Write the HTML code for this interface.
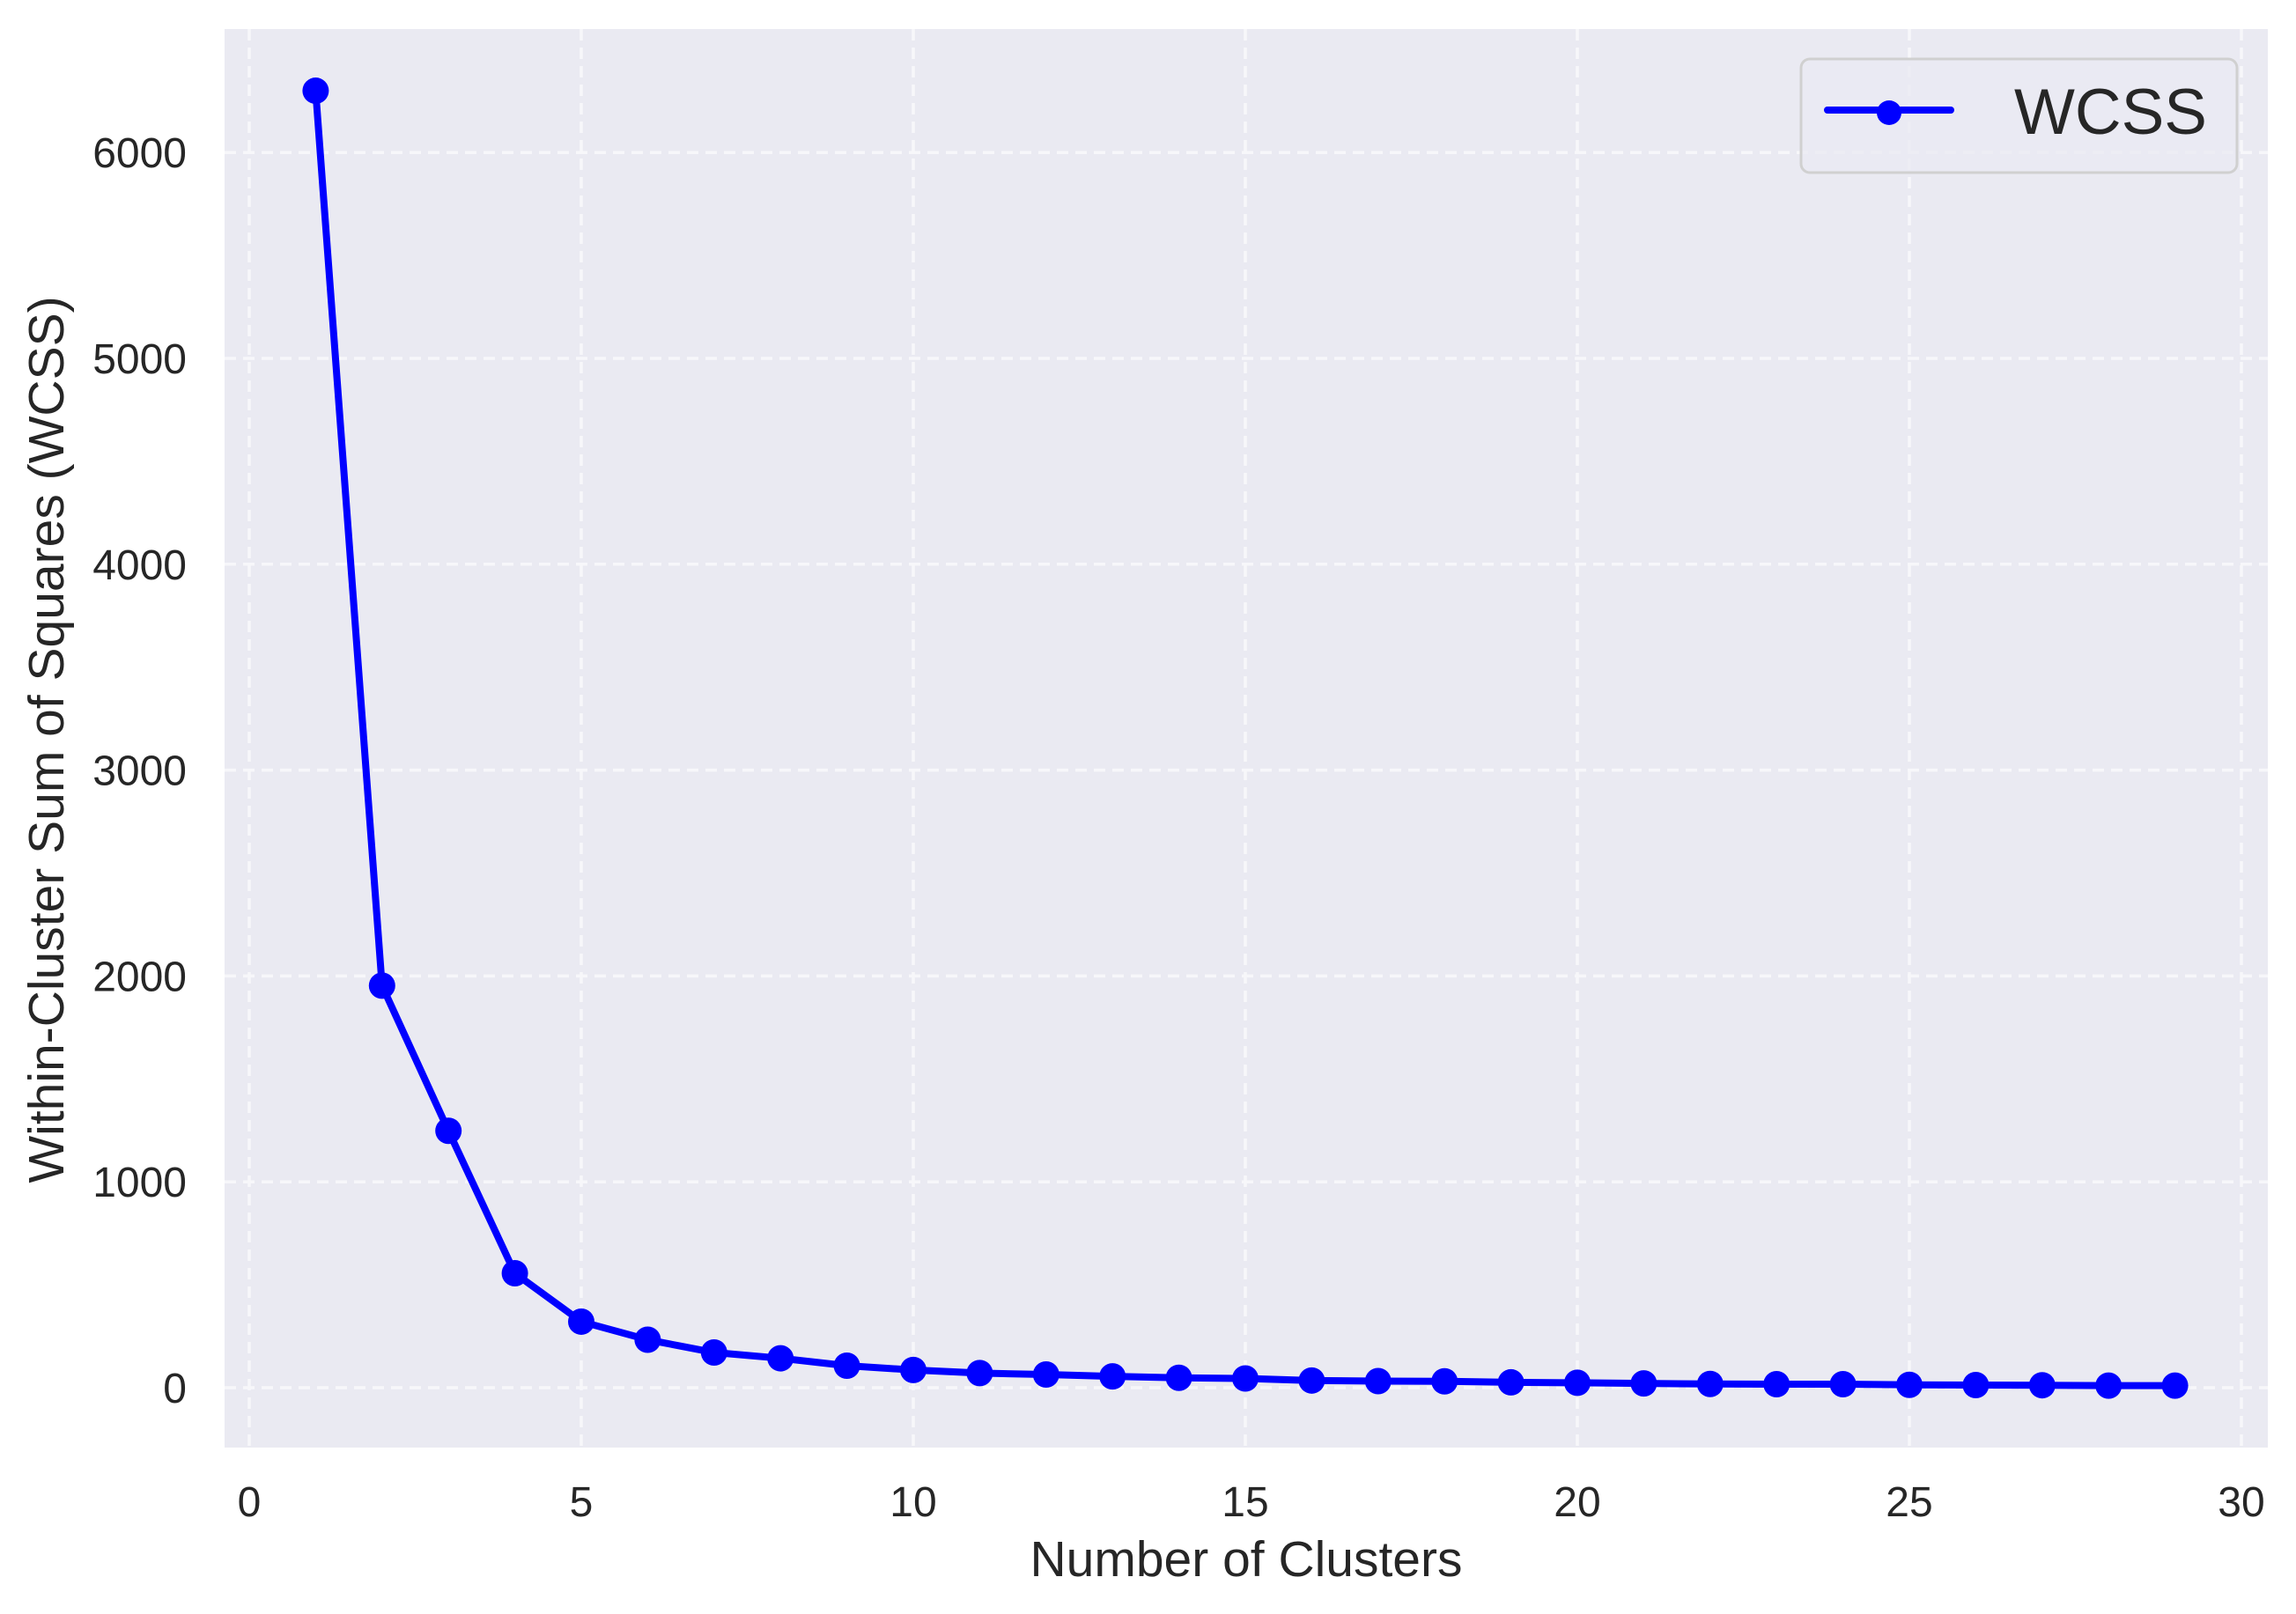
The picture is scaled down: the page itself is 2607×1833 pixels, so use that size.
<!DOCTYPE html>
<html><head><meta charset="utf-8"><style>
html,body{margin:0;padding:0;background:#fff;}
svg{display:block;font-family:"Liberation Sans",sans-serif;}
</style></head><body>
<svg id="chart" width="2607" height="1833" viewBox="0 0 2607 1833">
<rect x="255" y="33" width="2320" height="1611" fill="#eaeaf2"/>
<g id="grid"></g>
<g id="ticks" fill="#262626" font-size="48"></g>
<g id="series"></g>
<text x="1415" y="1790" text-anchor="middle" font-size="57" fill="#262626">Number of Clusters</text>
<text transform="translate(72,840) rotate(-90)" text-anchor="middle" font-size="57" fill="#262626">Within-Cluster Sum of Squares (WCSS)</text>
<g>
<rect x="2045" y="67" width="495" height="129" rx="10" fill="#eaeaf2" fill-opacity="0.8" stroke="#d0d0d0" stroke-width="3"/>
<line x1="2075" y1="125" x2="2215" y2="125" stroke="#0000ff" stroke-width="8" stroke-linecap="round"/>
<circle cx="2145" cy="128" r="14" fill="#0000ff"/>
<text x="2287" y="152" font-size="73" fill="#262626">WCSS</text>
</g>
</svg>
<script>
const clusters = [1,2,3,4,5,6,7,8,9,10,11,12,13,14,15,16,17,18,19,20,21,22,23,24,25,26,27,28,29];
const wcss = [6300,1953,1248,556,321,233,171,143,107,86,71,64,55,48,45,35,32,31,26,24,21,18,17,17,14,13,12,10,10];
const xTicks = [0,5,10,15,20,25,30];
const yTicks = [0,1000,2000,3000,4000,5000,6000];

const NS = "http://www.w3.org/2000/svg";
const xs = v => 283 + v * 75.4;
const ys = v => 1576 - v * 0.2338;
function mk(tag, attrs, parent){const e=document.createElementNS(NS,tag);for(const k in attrs)e.setAttribute(k,attrs[k]);parent.appendChild(e);return e;}
const grid=document.getElementById('grid'), ticks=document.getElementById('ticks'), series=document.getElementById('series');
xTicks.forEach(t=>{
  const l=mk('line',{x1:xs(t),x2:xs(t),y1:33,y2:1644,stroke:'#f7f7fa',"stroke-width":3.5,"stroke-dasharray":"13 8"},grid);
  
  
  const tx=mk('text',{x:xs(t),y:1722,"text-anchor":"middle"},ticks);tx.textContent=t;
  
  
});
yTicks.forEach(t=>{
  const l=mk('line',{x1:255,x2:2575,y1:ys(t),y2:ys(t),stroke:'#f7f7fa',"stroke-width":3.5,"stroke-dasharray":"13 8"},grid);
  
  
  const tx=mk('text',{x:212,y:ys(t)+17,"text-anchor":"end"},ticks);tx.textContent=t;
  
  
});
const pts=clusters.map((c,i)=>xs(c)+','+ys(wcss[i])).join(' ');
const pl=mk('polyline',{points:pts,fill:'none',stroke:'#0000ff',"stroke-width":8,"stroke-linejoin":"round"},series);


clusters.forEach((c,i)=>{
  const p=mk('circle',{cx:xs(c),cy:ys(wcss[i]),r:15,fill:'#0000ff'},series);
  
  
});
</script>
</body></html>
